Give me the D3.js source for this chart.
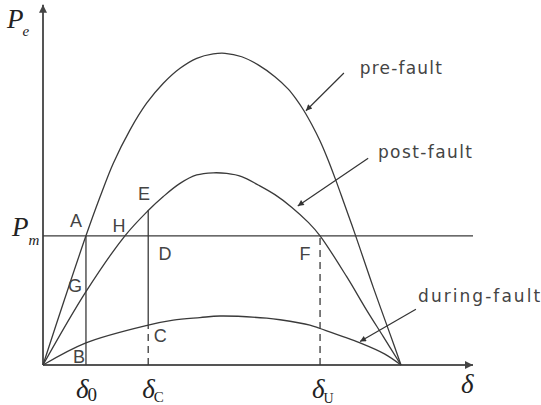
<!DOCTYPE html>
<html>
<head>
<meta charset="utf-8">
<script src="https://cdn.jsdelivr.net/npm/d3@7/dist/d3.min.js"></script>
<style>
  html, body { margin: 0; padding: 0; background: #fff; }
  svg { display: block; }
</style>
</head>
<body>
<svg id="chart" width="541" height="405"></svg>
<script>
// ---- data (delta in degrees, power in % of pre-fault maximum) ----
const preFaultDelta = [0, 10.8, 21.6, 28.7, 35.3, 43.7, 52.1, 60.5, 68.9, 77.3, 85.6, 91.5, 99.9, 108.2, 116.6, 123.2, 127.2, 131.2, 135.2, 139.3, 143.3, 147.3, 151.3, 155.4, 159.4, 166.1, 174.5, 180];
const preFaultP     = [0, 21.0, 41.4, 53.9, 64.6, 75.3, 83.9, 90.3, 95.1, 98.3, 99.7, 99.9, 98.8, 96.2, 92.4, 88.5, 85.3, 81.5, 77.0, 71.8, 65.8, 59.1, 52.0, 44.7, 37.3, 24.8, 9.9, 0];

const postFaultDelta = [0, 21.6, 41.2, 52.9, 60.5, 68.9, 77.3, 85.6, 92.4, 99.9, 108.2, 116.6, 125.0, 133.4, 139.3, 152.7, 162.7, 171.1, 180];
const postFaultP     = [0, 23.5, 41.4, 49.5, 54.0, 58.2, 60.9, 61.6, 61.4, 60.4, 57.7, 54.6, 50.6, 45.7, 41.4, 28.3, 17.6, 9.1, 0];

const duringFaultDelta = [0, 21.6, 52.9, 65.5, 78.9, 89.0, 112.5, 119.2, 134.2, 139.3, 159.4, 171.9, 180];
const duringFaultP     = [0, 7.1, 12.8, 14.4, 15.2, 15.7, 15.0, 14.5, 12.8, 11.7, 7.1, 3.5, 0];

const Pm = 41.4;
const delta0 = 21.6, deltaC = 52.9, deltaU = 139.3;
const axisEnd = { delta: 216.2, P: 115.5 };

const curveLabels = ["pre-fault", "post-fault", "during-fault"];
// label anchor (delta, P) and arrow [from, to]
const curveLabelPos = [[159.3, 93.3], [168.4, 66.4], [188.6, 20.2]];
const curveLabelWidth = [82, 94, 122];
const arrowFrom = [[151.3, 93.6], [163.5, 66.3], [187.5, 17.9]];
const arrowTo   = [[132.2, 81.5], [128.1, 51.0], [159.4, 7.5]];

const pointLabels = ["A", "B", "C", "D", "E", "F", "G", "H"];
const pointLabelPos = [[16.6, 44.2], [18.1, 0.6], [59.0, 7.4], [61.3, 33.6], [50.8, 52.9], [131.7, 33.6], [16.1, 23.4], [38.2, 42.6]];

// ---- scales ----
const x = d3.scaleLinear().domain([0, 180]).range([43, 401]);
const y = d3.scaleLinear().domain([0, 100]).range([365, 53]);

const svg = d3.select("#chart");
const ink = "#3a3a3a";

const defs = svg.append("defs");
defs.append("marker").attr("id", "axisArrow")
  .attr("viewBox", "0 0 10 10").attr("refX", 10).attr("refY", 5)
  .attr("markerUnits", "userSpaceOnUse")
  .attr("markerWidth", 12).attr("markerHeight", 8).attr("orient", "auto")
  .append("path").attr("d", "M0,0L10,5L0,10Z").attr("fill", "#444");
defs.append("marker").attr("id", "lblArrow")
  .attr("viewBox", "0 0 10 10").attr("refX", 10).attr("refY", 5)
  .attr("markerUnits", "userSpaceOnUse")
  .attr("markerWidth", 9).attr("markerHeight", 6).attr("orient", "auto")
  .append("path").attr("d", "M0,0L10,5L0,10Z").attr("fill", "#333");

// ---- axes ----
svg.append("line")
  .attr("x1", x(0)).attr("y1", y(0)).attr("x2", x(axisEnd.delta)).attr("y2", y(0))
  .attr("stroke", "#555").attr("stroke-width", 2).attr("marker-end", "url(#axisArrow)");
svg.append("line")
  .attr("x1", x(0)).attr("y1", y(0)).attr("x2", x(0)).attr("y2", y(axisEnd.P))
  .attr("stroke", "#555").attr("stroke-width", 2).attr("marker-end", "url(#axisArrow)");

// ---- Pm line ----
svg.append("line")
  .attr("x1", x(0)).attr("y1", y(Pm)).attr("x2", x(axisEnd.delta)).attr("y2", y(Pm))
  .attr("stroke", ink).attr("stroke-width", 1.3);

// ---- curves ----
const line = d3.line().x(d => x(d[0])).y(d => y(d[1])).curve(d3.curveCatmullRom.alpha(0.5));
const series = [
  d3.zip(preFaultDelta, preFaultP),
  d3.zip(postFaultDelta, postFaultP),
  d3.zip(duringFaultDelta, duringFaultP)
];
svg.selectAll("path.curve").data(series).join("path")
  .attr("class", "curve")
  .attr("d", line)
  .attr("fill", "none").attr("stroke", ink).attr("stroke-width", 1.3);

// ---- verticals ----
const interpAt = (xs, ys, v) => {
  for (let i = 1; i < xs.length; i++) {
    if (v <= xs[i]) {
      const t = (v - xs[i - 1]) / (xs[i] - xs[i - 1]);
      return ys[i - 1] + t * (ys[i] - ys[i - 1]);
    }
  }
  return ys[ys.length - 1];
};
const pC = interpAt(duringFaultDelta, duringFaultP, deltaC);
const pE = interpAt(postFaultDelta, postFaultP, deltaC);

const vlines = [
  { d: delta0, p0: 0, p1: Pm, dash: null },
  { d: deltaC, p0: pC, p1: pE, dash: null },
  { d: deltaC, p0: 0, p1: pC, dash: "7,5" },
  { d: deltaU, p0: 0, p1: Pm, dash: "7,5" }
];
svg.selectAll("line.v").data(vlines).join("line")
  .attr("class", "v")
  .attr("x1", d => x(d.d)).attr("x2", d => x(d.d))
  .attr("y1", d => y(d.p0)).attr("y2", d => y(d.p1))
  .attr("stroke", ink).attr("stroke-width", 1.3)
  .attr("stroke-dasharray", d => d.dash);

// ---- label arrows ----
svg.selectAll("line.la").data(d3.range(3)).join("line")
  .attr("class", "la")
  .attr("x1", i => x(arrowFrom[i][0])).attr("y1", i => y(arrowFrom[i][1]))
  .attr("x2", i => x(arrowTo[i][0])).attr("y2", i => y(arrowTo[i][1]))
  .attr("stroke", "#333").attr("stroke-width", 1.2)
  .attr("marker-end", "url(#lblArrow)");

// ---- curve labels ----
svg.selectAll("text.cl").data(curveLabels).join("text")
  .attr("class", "cl")
  .attr("x", (d, i) => x(curveLabelPos[i][0])).attr("y", (d, i) => y(curveLabelPos[i][1]))
  .attr("font-family", "DejaVu Sans, sans-serif").attr("font-size", 17)
  .attr("fill", "#444")
  .attr("textLength", (d, i) => curveLabelWidth[i]).attr("lengthAdjust", "spacing")
  .text(d => d);

// ---- point labels ----
svg.selectAll("text.pl").data(pointLabels).join("text")
  .attr("class", "pl")
  .attr("x", (d, i) => x(pointLabelPos[i][0])).attr("y", (d, i) => y(pointLabelPos[i][1]))
  .attr("text-anchor", "middle")
  .attr("font-family", "Liberation Sans, Arial, sans-serif").attr("font-size", 18)
  .attr("fill", "#444")
  .text(d => d);

// ---- math labels ----
const serif = "Liberation Serif, Times New Roman, serif";
function mathLabel(px, py, main, sub, subItalic, subSize, dx, dy) {
  const t = svg.append("text").attr("x", px).attr("y", py)
    .attr("font-family", serif).attr("fill", "#222");
  t.append("tspan").attr("font-style", "italic").attr("font-size", 27).text(main);
  if (sub) {
    t.append("tspan").attr("font-style", subItalic ? "italic" : "normal")
      .attr("font-size", subSize).attr("dx", dx).attr("dy", dy).text(sub);
  }
}
// y-axis title
mathLabel(x(0) - 36, y(axisEnd.P) + 23, "P", "e", true, 15, -1, 8);
// Pm tick label
mathLabel(x(0) - 31, y(Pm) + 0, "P", "m", true, 15, 0, 9);
// delta tick labels
mathLabel(x(delta0) - 10, y(0) + 33, "δ", "0", false, 19, -1, 3);
mathLabel(x(deltaC) - 6, y(0) + 33, "δ", "C", false, 15, -1, 4);
mathLabel(x(deltaU) - 8, y(0) + 33, "δ", "U", false, 14, -1, 5);
// x-axis title
mathLabel(x(axisEnd.delta) - 12, y(0) + 28, "δ", null);
</script>
</body>
</html>
